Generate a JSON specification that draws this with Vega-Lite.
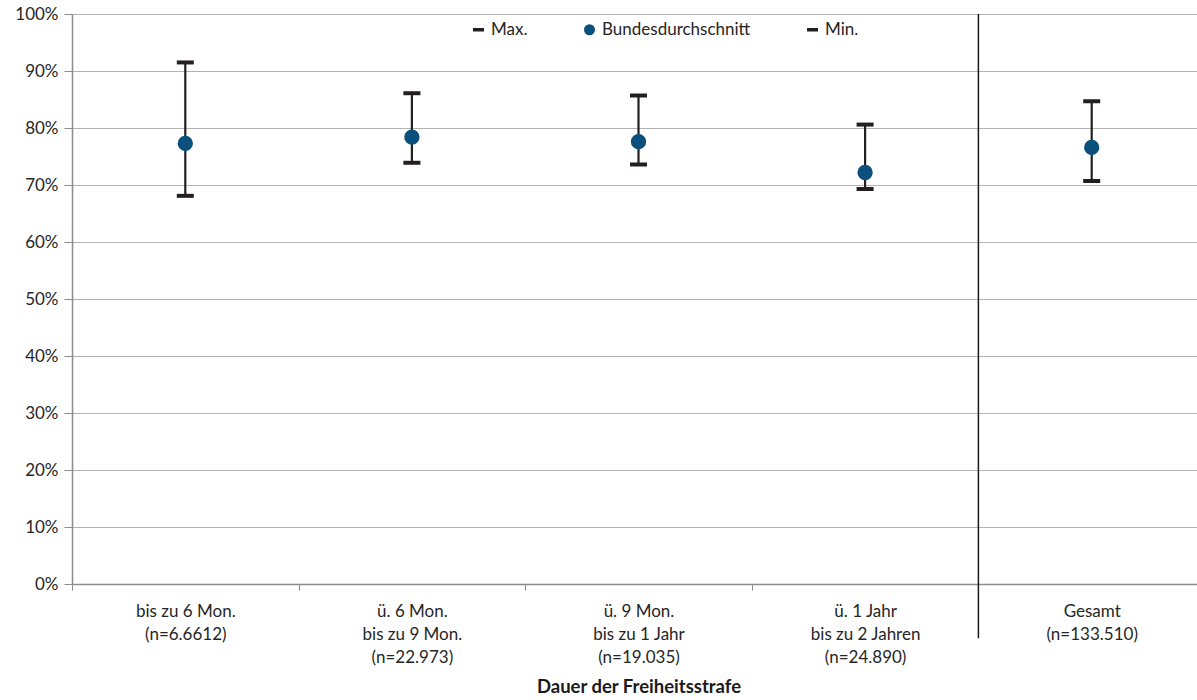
{
  "$schema": "https://vega.github.io/schema/vega-lite/v6.json",
  "width": 1125,
  "height": 570,
  "autosize": "none",
  "padding": {"left": 72, "top": 14, "right": 0, "bottom": 116},
  "background": "white",
  "data": {
    "values": [
      {"cat": "bis zu 6 Mon.|(n=6.6612)", "min": 0.681, "mean": 0.773, "max": 0.915},
      {"cat": "ü. 6 Mon.|bis zu 9 Mon.|(n=22.973)", "min": 0.739, "mean": 0.784, "max": 0.861},
      {"cat": "ü. 9 Mon.|bis zu 1 Jahr|(n=19.035)", "min": 0.736, "mean": 0.776, "max": 0.857},
      {"cat": "ü. 1 Jahr|bis zu 2 Jahren|(n=24.890)", "min": 0.693, "mean": 0.722, "max": 0.806},
      {"cat": "Gesamt|(n=133.510)", "min": 0.707, "mean": 0.766, "max": 0.847}
    ]
  },
  "encoding": {
    "x": {
      "field": "cat",
      "type": "nominal",
      "sort": null,
      "scale": {"range": [0, 1133], "paddingInner": 0, "paddingOuter": 0},
      "axis": {
        "title": "Dauer der Freiheitsstrafe",
        "titleFont": "Lato",
        "titleFontSize": 18.5,
        "titleFontWeight": "bold",
        "titleColor": "#1a1a1a",
        "titlePadding": 12,
        "labelExpr": "split(datum.label, '|')",
        "labelAngle": 0,
        "labelFont": "Lato",
        "labelFontSize": 17,
        "labelColor": "#262626",
        "labelLineHeight": 23,
        "labelPadding": 13,
        "labelBound": false,
        "labelOverlap": false,
        "tickBand": "extent",
        "tickSize": 6,
        "tickColor": "#8c8c8c",
        "domainColor": "#8c8c8c",
        "domainWidth": 1.5,
        "grid": false
      }
    }
  },
  "layer": [
    {
      "mark": {"type": "rule", "color": "#231f20", "strokeWidth": 2.2},
      "encoding": {
        "y": {
          "field": "min",
          "type": "quantitative",
          "scale": {"domain": [0, 1], "nice": false},
          "axis": {
            "values": [0, 0.1, 0.2, 0.3, 0.4, 0.5, 0.6, 0.7, 0.8, 0.9, 1],
            "format": ".0%",
            "title": null,
            "labelFont": "Lato",
            "labelFontSize": 17,
            "labelColor": "#262626",
            "labelPadding": 6,
            "tickSize": 8,
            "tickColor": "#8c8c8c",
            "domainColor": "#8c8c8c",
            "domainWidth": 1.5,
            "gridColor": "#b3b3b3",
            "gridWidth": 1.2
          }
        },
        "y2": {"field": "max"}
      }
    },
    {
      "transform": [{"fold": ["max", "min"], "as": ["series", "value"]}],
      "mark": {"type": "tick", "orient": "horizontal", "size": 17, "thickness": 4, "opacity": 1},
      "encoding": {
        "y": {"field": "value", "type": "quantitative"},
        "color": {"field": "series", "type": "nominal"}
      }
    },
    {
      "transform": [{"fold": ["mean"], "as": ["series", "value"]}],
      "mark": {"type": "point", "filled": true, "shape": "circle", "size": 235, "opacity": 1},
      "encoding": {
        "y": {"field": "value", "type": "quantitative"},
        "color": {
          "field": "series",
          "type": "nominal",
          "scale": {"domain": ["max", "mean", "min"], "range": ["#231f20", "#0b4f7c", "#231f20"]},
          "legend": {
            "orient": "none",
            "legendX": 398,
            "legendY": 7,
            "direction": "horizontal",
            "title": null,
            "labelExpr": "{'max': 'Max.', 'mean': 'Bundesdurchschnitt', 'min': 'Min.'}[datum.label]",
            "labelFont": "Lato",
            "labelFontSize": 17,
            "labelColor": "#262626",
            "symbolSize": 121,
            "symbolStrokeWidth": 0,
            "symbolOpacity": 1,
            "columnPadding": 53,
            "labelOffset": 4
          }
        },
        "shape": {
          "field": "series",
          "type": "nominal",
          "scale": {"domain": ["max", "mean", "min"], "range": ["M-1,-0.32H1V0.32H-1Z", "circle", "M-1,-0.32H1V0.32H-1Z"]}
        }
      }
    },
    {
      "data": {"values": [{"cat": "Gesamt|(n=133.510)"}]},
      "mark": {"type": "rule", "color": "#1a1a1a", "strokeWidth": 1.5},
      "encoding": {
        "x": {"field": "cat", "type": "nominal", "bandPosition": 0},
        "y": {"datum": 1},
        "y2": {"datum": -0.095}
      }
    }
  ],
  "config": {
    "view": {"stroke": null},
    "font": "Lato"
  }
}
